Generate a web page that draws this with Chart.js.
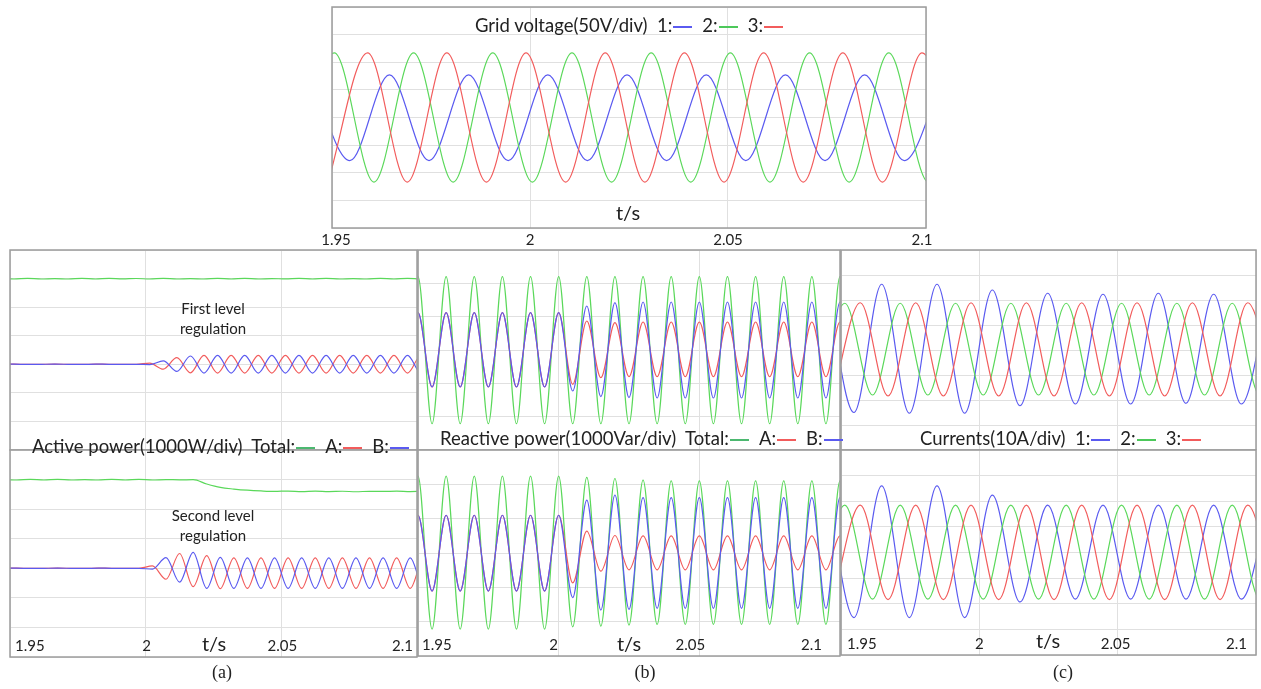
<!DOCTYPE html>
<html>
<head>
<meta charset="utf-8">
<script src="https://cdn.jsdelivr.net/npm/chart.js@4.4.1/dist/chart.umd.min.js"></script>
<style>
  body { margin: 0; background: #fff; width: 1261px; height: 689px; position: relative; overflow: hidden; }
  canvas { position: absolute; }
  .t { position: absolute; white-space: pre; font-family: Lato, sans-serif; color: #222; line-height: 20px; transform: translateY(-50%); }
  .c { transform: translate(-50%, -50%); text-align: center; }
  .mk { display: inline-block; width: 19px; border-top: 2px solid; vertical-align: middle; margin: 0 10px 0 1px; }
  .cap { position: absolute; font-family: "Liberation Serif", serif; font-size: 18px; color: #222; transform: translate(-50%, -50%); }
</style>
</head>
<body>
<canvas id="top" width="634" height="245" style="left:312px;top:5px"></canvas>
<canvas id="aUp" width="411" height="204" style="left:8px;top:248px"></canvas>
<canvas id="aLo" width="411" height="211" style="left:8px;top:448px"></canvas>
<canvas id="bUp" width="426" height="204" style="left:416px;top:248px"></canvas>
<canvas id="bLo" width="426" height="210" style="left:416px;top:448px"></canvas>
<canvas id="cUp" width="419" height="204" style="left:839px;top:248px"></canvas>
<canvas id="cLo" width="419" height="209" style="left:839px;top:448px"></canvas>

<div class="t" style="left:475px;top:25px;font-size:18.5px">Grid voltage(50V/div)  1:<span class="mk" style="color:#5a5af0"></span>2:<span class="mk" style="color:#4cc85a"></span>3:<span class="mk" style="color:#f25c5c"></span></div>
<div class="t c" style="left:628px;top:212px;font-size:20px">t/s</div>

<div class="t" style="left:32px;top:446px;font-size:18.5px">Active power(1000W/div)  Total:<span class="mk" style="color:#4cb870"></span>A:<span class="mk" style="color:#f25c5c"></span>B:<span class="mk" style="color:#5a5af0"></span></div>
<div class="t c" style="left:213px;top:318px;font-size:15px">First level
regulation</div>
<div class="t c" style="left:213px;top:525px;font-size:15px">Second level
regulation</div>
<div class="t c" style="left:214px;top:643px;font-size:20px">t/s</div>

<div class="t" style="left:440px;top:438px;font-size:18.5px">Reactive power(1000Var/div)  Total:<span class="mk" style="color:#4cb870"></span>A:<span class="mk" style="color:#f25c5c"></span>B:<span class="mk" style="color:#5a5af0"></span></div>
<div class="t c" style="left:629px;top:643px;font-size:20px">t/s</div>

<div class="t" style="left:920px;top:438px;font-size:18.5px">Currents(10A/div)  1:<span class="mk" style="color:#5a5af0"></span>2:<span class="mk" style="color:#4cc85a"></span>3:<span class="mk" style="color:#f25c5c"></span></div>
<div class="t c" style="left:1048px;top:640px;font-size:20px">t/s</div>

<div class="cap" style="left:222px;top:672px">(a)</div>
<div class="cap" style="left:645px;top:672px">(b)</div>
<div class="cap" style="left:1063px;top:672px">(c)</div>

<script>
// time axis
const xTickValues = [1.95, 2, 2.05, 2.1];
const xTickLabels = ["1.95", "2", "2.05", "2.1"];

const BLUE = "#5a5af0";
const RED = "#f25c5c";
const GREEN = "#5ad85a";

// grid voltage (V), successive peaks/troughs, 10 ms apart
const gridV1 = [77,-78,77,-78,77,-78,77,-78,77,-78,77,-78,77,-78,77,-78,77];
const gridV2 = [-117,117,-117,117,-117,117,-117,117,-117,117,-117,117,-117,117,-117,117,-117,117];
const gridV3 = [-117,117,-117,117,-117,117,-117,117,-117,117,-117,117,-117,117,-117,117,-117];

// active power (W), samples 5 ms apart
const pTotalFirst = [3005,2985,3005,2985,3000,2985,3005,2985,3005,2988,3002,
                     2985,3005,2985,3000,2985,3005,2985,3005,2985,3000,2988,
                     3005,2985,3005,2985,3000,2985,3005,2985,3005,2985,3000];
const pAFirst = [0,5,-5,0,5,0,-5,5,0,0,0,40,-170,230,-300,
                 310,-310,310,-310,310,-310,310,-310,310,-310,310,-310,310,-310,310,-310,310,-310];
const pBFirst = [0,5,-5,0,5,0,-5,5,0,0,0,-10,120,-250,290,
                 -310,310,-310,310,-310,310,-310,310,-310,310,-310,310,-310,310,-310,310,-310,310];
const pTotalSecond = [3005,2985,3005,2985,3005,2985,3000,2985,3005,2985,3005,2985,3000,2990,
                      2995,2850,2735,2680,2640,2615,
                      2600,2612,2590,2608,2595,2605,2588,2604,2598,2610,2594,2605,2600];
const pASecond = [0,5,-5,0,5,0,-5,5,0,0,0,80,-370,500,-620,430,-690,
                  350,-680,350,-680,350,-680,350,-680,350,-680,350,-680,350,-680,350,-680];
const pBSecond = [0,5,-5,0,5,0,-5,5,0,0,0,-30,360,-470,540,-680,370,
                  -680,350,-680,350,-680,350,-680,350,-680,350,-680,350,-680,350,-680,350];

// reactive power (Var), peaks/troughs 5 ms apart
const qTotalFirst = [-2210,2200,-2210,2200,-2210,2200,-2210,2200,-2210,2200,-2210,2200,
                     -2210,2200,-2210,2200,-2210,2200,-2210,2200,-2210,2200,-2210,2200,
                     -2210,2200,-2210,2200,-2210,2200,-2210,2200,-2210,2200];
const qAFirst = [-1110,1120,-1110,1120,-1110,1120,-1110,1120,-1110,1120,-1110,1120,
                 -1030,870,-830,820,-800,
                 840,-800,840,-800,840,-800,840,-800,840,-800,840,-800,840,-800,840,-800,840];
const qBFirst = [-1110,1120,-1110,1120,-1110,1120,-1110,1120,-1110,1120,-1110,1120,
                 -1230,1320,-1400,1420,-1430,
                 1440,-1440,1440,-1440,1440,-1440,1440,-1440,1440,-1440,1440,-1440,1440,-1440,1440,-1440,1440];
const qTotalSecond = [-2220,2240,-2220,2240,-2220,2240,-2220,2240,-2220,2240,-2220,2240,
                      -2150,2200,-2130,2170,-2100,2120,
                      -2080,2100,-2080,2100,-2080,2100,-2080,2100,-2080,2100,-2080,2100,-2080,2100,-2080,2100];
const qASecond = [-1110,1100,-1110,1100,-1110,1100,-1110,1100,-1110,1100,-1110,1100,
                  -870,640,-530,510,-490,
                  500,-490,500,-490,500,-490,500,-490,500,-490,500,-490,500,-490,500,-490,500];
const qBSecond = [-1110,1100,-1110,1100,-1110,1100,-1110,1100,-1110,1100,-1110,1100,
                  -1300,1540,-1660,1690,-1640,
                  1610,-1610,1610,-1610,1610,-1610,1610,-1610,1610,-1610,1610,-1610,1610,-1610,1610,-1610,1610];

// currents (A), peaks/troughs 10 ms apart
const i1First = [26.3,-25,26.3,-25.3,26.3,-25.3,24,-22.3,22.7,-21.6,22.3,-21.6,22.7,-21.3,22.3,-21.6,22.3];
const i2First = [-18,18.7,-18,18.7,-18,18.7,-18,18.7,-18,18.7,-18,18.7,-18,18.7,-18,18.7,-18,18.7];
const i3First = [-18.4,18.9,-18.4,18.9,-18.4,18.9,-18.4,18.9,-18.4,18.9,-18.4,18.9,-18.4,18.9,-18.4,18.9,-18.4];
const i1Second = [26,-25.4,26,-25.4,26,-25.4,22.4,-19.3,18.5,-18.2,18.5,-18.2,18.5,-18.2,18.5,-18.2,18.5];
const i2Second = [-18.2,18.5,-18.2,18.5,-18.2,18.5,-18.2,18.5,-18.2,18.5,-18.2,18.5,-18.2,18.5,-18.2,18.5,-18.2,18.5];
const i3Second = [-18.4,18.5,-18.4,18.5,-18.4,18.5,-18.4,18.5,-18.4,18.5,-18.4,18.5,-18.4,18.5,-18.4,18.5,-18.4];

// pairs values with their sample times
function timed(t0, step, vals) {
  return vals.map((v, i) => ({ x: t0 + i * step, y: v }));
}

// frame + x labels
const framePlugin = {
  id: "frame",
  afterDraw(chart, args, opts) {
    const { ctx, chartArea: a } = chart;
    const x = chart.scales.x;
    ctx.save();
    ctx.strokeStyle = "#9c9c9c";
    ctx.lineWidth = 1.5;
    ctx.strokeRect(a.left, a.top, a.right - a.left, a.bottom - a.top);
    if (opts.labels) {
      ctx.fillStyle = "#222";
      ctx.font = "15px Lato";
      ctx.textBaseline = "middle";
      xTickValues.forEach((v, i) => {
        ctx.textAlign = opts.align[i];
        ctx.fillText(xTickLabels[i], x.getPixelForValue(v) + opts.dx[i], opts.inside ? a.bottom - 11 : a.bottom + 12);
      });
    }
    ctx.restore();
  },
};

function makeChart(id, yMin, yMax, yStep, sets, pad, frameOpts) {
  return new Chart(document.getElementById(id), {
    type: "line",
    data: {
      datasets: sets.map((s) => ({
        data: s.data,
        borderColor: s.color,
        borderWidth: 1.2,
        pointRadius: 0,
        cubicInterpolationMode: "monotone",
        fill: false,
        clip: 0,
      })),
    },
    options: {
      responsive: false,
      animation: false,
      events: [],
      layout: { padding: pad },
      plugins: { legend: { display: false }, tooltip: { enabled: false }, frame: frameOpts },
      scales: {
        x: {
          type: "linear", min: 1.95, max: 2.1,
          ticks: { display: false, stepSize: 0.05 },
          grid: { color: "#e0e0e0", drawTicks: false },
          border: { display: false },
        },
        y: {
          min: yMin, max: yMax,
          ticks: { display: false, stepSize: yStep },
          grid: { color: "#e0e0e0", drawTicks: false },
          border: { display: false },
        },
      },
    },
    plugins: [framePlugin],
  });
}

const noLabels = { labels: false };

makeChart("top", -200, 200, 50, [
  { data: timed(1.949, 0.01, gridV3), color: RED },
  { data: timed(1.9406, 0.01, gridV2), color: GREEN },
  { data: timed(1.9445, 0.01, gridV1), color: BLUE },
], { left: 20, right: 20, top: 2, bottom: 22 },
  { labels: true, inside: false, align: ["center", "center", "center", "center"], dx: [4, 0, 0, -4] });

makeChart("aUp", -3000, 4000, 1000, [
  { data: timed(1.9465, 0.005, pBFirst), color: BLUE },
  { data: timed(1.9465, 0.005, pAFirst), color: RED },
  { data: timed(1.9465, 0.005, pTotalFirst), color: GREEN },
], 2, noLabels);

makeChart("aLo", -3000, 4000, 1000, [
  { data: timed(1.9475, 0.005, pBSecond), color: BLUE },
  { data: timed(1.9475, 0.005, pASecond), color: RED },
  { data: timed(1.9475, 0.005, pTotalSecond), color: GREEN },
], 2, { labels: true, inside: true, align: ["left", "center", "center", "right"], dx: [5, 1, 1, -4] });

makeChart("bUp", -3000, 3000, 1000, [
  { data: timed(1.945, 0.005, qBFirst), color: BLUE },
  { data: timed(1.945, 0.005, qAFirst), color: RED },
  { data: timed(1.945, 0.005, qTotalFirst), color: GREEN },
], 2, noLabels);

makeChart("bLo", -3000, 3000, 1000, [
  { data: timed(1.945, 0.005, qBSecond), color: BLUE },
  { data: timed(1.945, 0.005, qASecond), color: RED },
  { data: timed(1.945, 0.005, qTotalSecond), color: GREEN },
], 2, { labels: true, inside: true, align: ["left", "center", "center", "right"], dx: [4, -5, -9, -18] });

makeChart("cUp", -40, 40, 10, [
  { data: timed(1.947, 0.01, i3First), color: RED },
  { data: timed(1.9414, 0.01, i2First), color: GREEN },
  { data: timed(1.9447, 0.01, i1First), color: BLUE },
], 2, noLabels);

makeChart("cLo", -40, 40, 10, [
  { data: timed(1.947, 0.01, i3Second), color: RED },
  { data: timed(1.9414, 0.01, i2Second), color: GREEN },
  { data: timed(1.9447, 0.01, i1Second), color: BLUE },
], 2, { labels: true, inside: true, align: ["left", "center", "center", "right"], dx: [6, 0, -2, -9] });
</script>
</body>
</html>
